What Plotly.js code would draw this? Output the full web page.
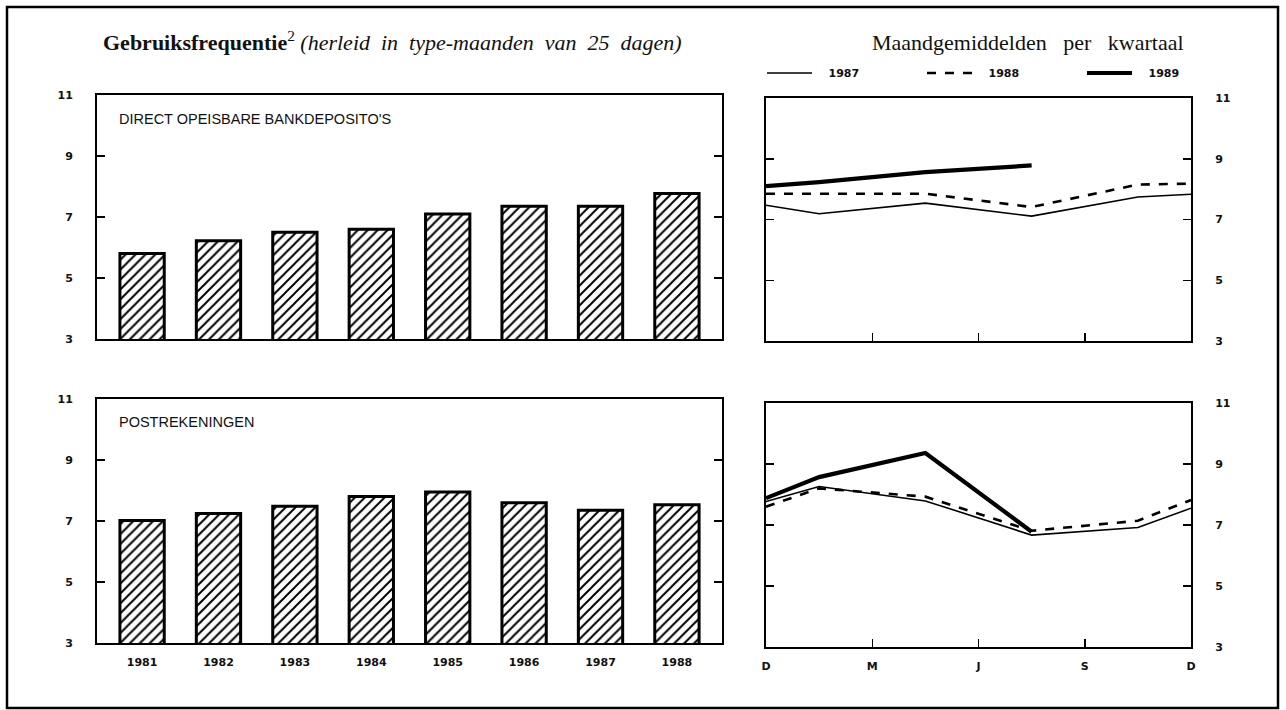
<!DOCTYPE html>
<html>
<head>
<meta charset="utf-8">
<script src="https://cdn.plot.ly/plotly-3.0.1.min.js"></script>
<style>html,body{margin:0;padding:0;background:#fff;}#chart{width:1286px;height:710px;}</style>
</head>
<body>
<div id="chart"></div>
<script>
// ---- data ----
const years = ["1981","1982","1983","1984","1985","1986","1987","1988"];
const bankDeposits = [5.8, 6.22, 6.5, 6.6, 7.1, 7.35, 7.35, 7.77];
const postAccounts = [7.02, 7.25, 7.48, 7.8, 7.95, 7.6, 7.35, 7.53];

const quarterPos = [0, 0.5, 1.5, 2.5, 3.5, 4];
const quarterTickVals = [0, 1, 2, 3, 4];
const quarterTickText = ["D", "M", "J", "S", "D"];
const yTicks = [3, 5, 7, 9, 11];
const seriesNames = ["1987", "1988", "1989"];

const bank1987 = [7.47, 7.19, 7.54, 7.11, 7.74, 7.83];
const bank1988 = [7.85, 7.85, 7.85, 7.41, 8.15, 8.18];
const bank1989 = [8.10, 8.23, 8.56, 8.78];
const post1987 = [7.77, 8.26, 7.79, 6.67, 6.92, 7.55];
const post1988 = [7.60, 8.20, 7.93, 6.81, 7.14, 7.82];
const post1989 = [7.88, 8.57, 9.36, 6.78];

// ---- styling helpers ----
const W = 1286, H = 710;
const px = v => v / W;
const py = v => 1 - v / H;
const tickFont = {family: "DejaVu Sans, Verdana, sans-serif", size: 11, color: "#111", weight: "bold"};

const barMarker = {
  color: "white",
  line: {color: "black", width: 3},
  pattern: {shape: "/", size: 7, solidity: 0.28, fgcolor: "black", bgcolor: "white", fillmode: "replace"}
};

const styles = {
  "1987": {color: "black", width: 1.6, dash: "solid"},
  "1988": {color: "black", width: 2.6, dash: "dash"},
  "1989": {color: "black", width: 4.2, dash: "solid"}
};

function lineTrace(name, xs, ys, xa, ya, show) {
  return {type: "scatter", mode: "lines", name: "\u00a0\u00a0\u00a0" + name, x: xs.slice(0, ys.length), y: ys,
    xaxis: xa, yaxis: ya, line: styles[name], showlegend: show, hoverinfo: "skip"};
}

const data = [
  {type: "bar", x: years, y: bankDeposits, xaxis: "x", yaxis: "y", width: 0.58,
   marker: barMarker, showlegend: false, base: 0},
  {type: "bar", x: years, y: postAccounts, xaxis: "x2", yaxis: "y2", width: 0.58,
   marker: barMarker, showlegend: false, base: 0},
  lineTrace(seriesNames[0], quarterPos, bank1987, "x3", "y3", true),
  lineTrace(seriesNames[1], quarterPos, bank1988, "x3", "y3", true),
  lineTrace(seriesNames[2], quarterPos, bank1989, "x3", "y3", true),
  lineTrace(seriesNames[0], quarterPos, post1987, "x4", "y4", false),
  lineTrace(seriesNames[1], quarterPos, post1988, "x4", "y4", false),
  lineTrace(seriesNames[2], quarterPos, post1989, "x4", "y4", false)
];

function yAxis(domain, side, anchor) {
  return {domain: domain, range: [3, 11], tickvals: yTicks, ticks: "inside", ticklen: 8, tickwidth: 1.5,
    tickcolor: "black", mirror: "ticks", showline: true, linewidth: 2, linecolor: "black",
    showgrid: false, zeroline: false, side: side, anchor: anchor, tickfont: tickFont,
    ticklabelstandoff: 20, fixedrange: true};
}

const leftDom = [px(97), px(722)];
const rightDom = [px(766), px(1191)];

const layout = {
  width: W, height: H,
  margin: {l: 0, r: 0, t: 0, b: 0, autoexpand: false},
  paper_bgcolor: "white", plot_bgcolor: "white",
  bargap: 0.4,
  xaxis: {domain: leftDom, anchor: "y", type: "category", range: [-0.59, 7.59], showticklabels: false,
    ticks: "", showline: true, mirror: true, linewidth: 2, linecolor: "black", showgrid: false, fixedrange: true},
  yaxis: yAxis([py(339), py(95)], "left", "x"),
  xaxis2: {domain: leftDom, anchor: "y2", type: "category", range: [-0.59, 7.59], ticks: "",
    showline: true, mirror: true, linewidth: 2, linecolor: "black", showgrid: false,
    tickfont: tickFont, ticklabelstandoff: 8, fixedrange: true},
  yaxis2: yAxis([py(643), py(399)], "left", "x2"),
  xaxis3: {domain: rightDom, anchor: "y3", range: [0, 4], tickvals: [1, 2, 3], showticklabels: false,
    ticks: "inside", ticklen: 8, tickwidth: 1.5, tickcolor: "black", showline: true, mirror: true,
    linewidth: 2, linecolor: "black", showgrid: false, zeroline: false, fixedrange: true},
  yaxis3: yAxis([py(341), py(98)], "right", "x3"),
  xaxis4: {domain: rightDom, anchor: "y4", range: [0, 4], tickvals: quarterTickVals, ticktext: quarterTickText,
    ticks: "inside", ticklen: 8, tickwidth: 1.5, tickcolor: "black", showline: true, mirror: true,
    linewidth: 2, linecolor: "black", showgrid: false, zeroline: false, tickfont: tickFont,
    ticklabelstandoff: 8, fixedrange: true},
  yaxis4: yAxis([py(647), py(403)], "right", "x4"),
  legend: {orientation: "h", x: px(762), y: py(73), xanchor: "left", yanchor: "middle",
    itemwidth: 45, entrywidth: 100, entrywidthmode: "pixels", font: tickFont, bgcolor: "rgba(0,0,0,0)",
    traceorder: "normal", itemclick: false, itemdoubleclick: false},
  showlegend: true,
  annotations: [
    {xref: "paper", yref: "paper", x: px(101), y: py(41), xanchor: "left", yanchor: "middle", showarrow: false,
     text: "<b>Gebruiksfrequentie</b><sup>2</sup> <i>(herleid\u00a0 in\u00a0 type-maanden\u00a0 van\u00a0 25\u00a0 dagen)</i>",
     font: {family: "Liberation Serif, Times New Roman, serif", size: 22, color: "#111"}},
    {xref: "paper", yref: "paper", x: px(1186), y: py(42), xanchor: "right", yanchor: "middle", showarrow: false,
     text: "Maandgemiddelden\u00a0\u00a0 per\u00a0\u00a0 kwartaal",
     font: {family: "Liberation Serif, Times New Roman, serif", size: 22, color: "#111"}},
    {xref: "paper", yref: "paper", x: px(117), y: py(119), xanchor: "left", yanchor: "middle", showarrow: false,
     text: "DIRECT OPEISBARE BANKDEPOSITO'S",
     font: {family: "Liberation Sans, Arial, sans-serif", size: 14.5, color: "#111"}},
    {xref: "paper", yref: "paper", x: px(117), y: py(422), xanchor: "left", yanchor: "middle", showarrow: false,
     text: "POSTREKENINGEN",
     font: {family: "Liberation Sans, Arial, sans-serif", size: 14.5, color: "#111"}}
  ],
  shapes: [
    {type: "rect", xref: "paper", yref: "paper", x0: px(7), x1: px(1278), y0: py(708), y1: py(7),
     line: {color: "black", width: 2.5}}
  ]
};

Plotly.newPlot("chart", data, layout, {displayModeBar: false, staticPlot: true});
</script>
</body>
</html>
